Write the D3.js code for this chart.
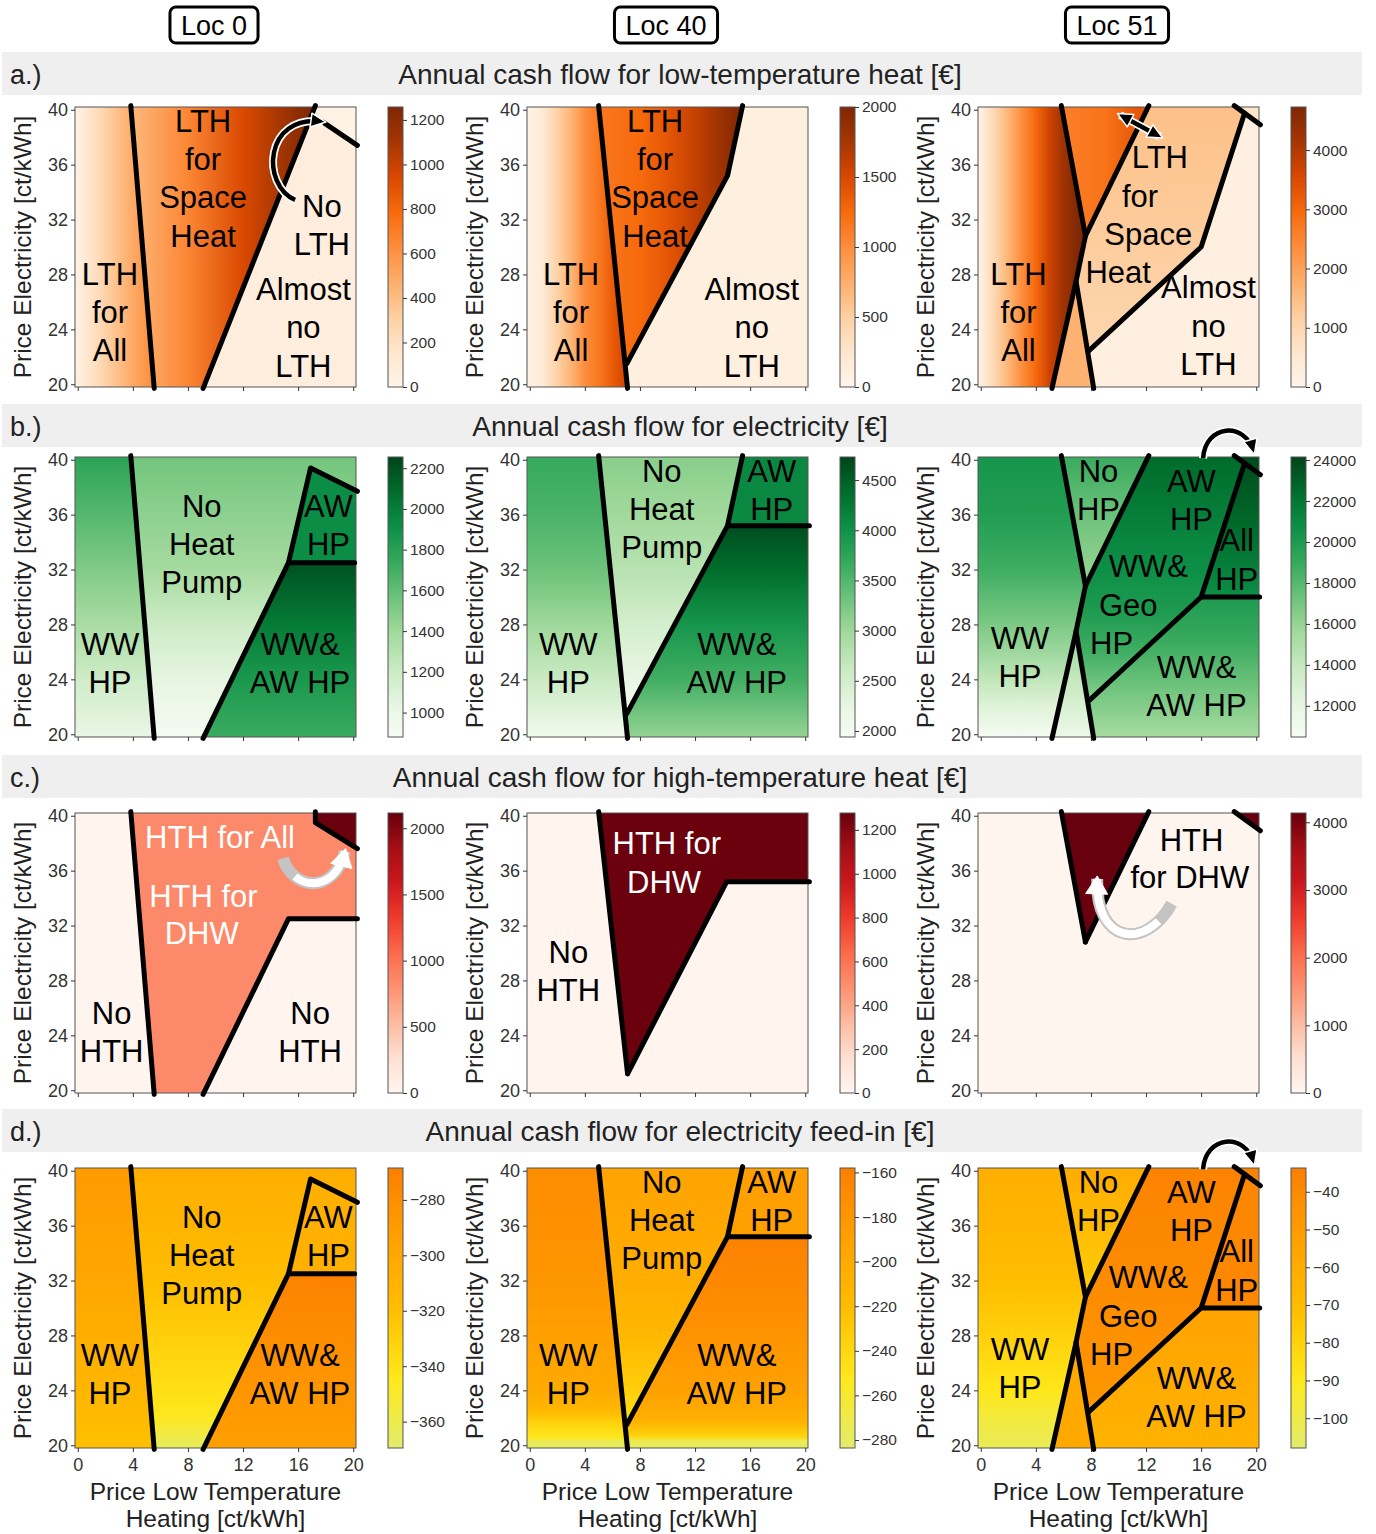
<!DOCTYPE html>
<html>
<head>
<meta charset="utf-8">
<script src="https://cdn.jsdelivr.net/npm/d3@7"></script>
<style>
  body { margin: 0; background: #fff; }
</style>
</head>
<body>
<svg id="fig" width="1376" height="1534"></svg>
<script>
const FONT = "'Liberation Sans', Arial, Helvetica, sans-serif"

// headers and titles
const locations = ["Loc 0", "Loc 40", "Loc 51"]
const rowLetters = ["a.)", "b.)", "c.)", "d.)"]
const rowTitles = [
  "Annual cash flow for low-temperature heat [€]",
  "Annual cash flow for electricity [€]",
  "Annual cash flow for high-temperature heat [€]",
  "Annual cash flow for electricity feed-in [€]"
]
const xTicks = [0, 4, 8, 12, 16, 20]
const yTicks = [20, 24, 28, 32, 36, 40]

// colour maps (close to matplotlib Oranges, Greens, Reds, Wistia as printed)
const palettes = {
  oranges: ["#fff5eb", "#fee6ce", "#fdd0a2", "#fdae6b", "#fd8d3c", "#f76a0c", "#d94801", "#a63603", "#7f2704"],
  greens: ["#f7fcf5", "#e5f5e0", "#c7e9c0", "#a1d99b", "#6cc27a", "#35a95c", "#0c8f47", "#006d2c", "#00441b"],
  reds: ["#fff5f0", "#fee0d2", "#fcbba1", "#fc9272", "#fb6a4a", "#ef3b2c", "#cb181d", "#a50f15", "#67000d"],
  wistia: ["#e2ec6c", "#ffe81a", "#ffbd00", "#ffa000", "#fc7f00"]
}
const rowPalette = ["oranges", "greens", "reds", "wistia"]

// colour bar ranges [min, max] per row / location
const cbDomains = [
  [[0, 1258], [0, 2000], [0, 4727]],
  [[880, 2255], [1940, 4730], [10480, 24150]],
  [[0, 2115], [0, 1277], [0, 4137]],
  [[-369.5, -268.5], [-283.6, -158], [-107.9, -33.7]]
]
const cbTicks = [
  [[0, 200, 400, 600, 800, 1000, 1200], [0, 500, 1000, 1500, 2000], [0, 1000, 2000, 3000, 4000]],
  [[1000, 1200, 1400, 1600, 1800, 2000, 2200], [2000, 2500, 3000, 3500, 4000, 4500], [12000, 14000, 16000, 18000, 20000, 22000, 24000]],
  [[0, 500, 1000, 1500, 2000], [0, 200, 400, 600, 800, 1000, 1200], [0, 1000, 2000, 3000, 4000]],
  [[-360, -340, -320, -300, -280], [-280, -260, -240, -220, -200, -180, -160], [-100, -90, -80, -70, -60, -50, -40]]
]

// boundary lines, [price LTH, price electricity]
const edge0 = [[3.85, 40.3], [5.55, 19.7]]
const edge40 = [[5.0, 40.3], [7.1, 19.7]]
const stepAw0 = [[9.1, 19.7], [15.3, 32.5], [16.9, 39.4], [20.3, 37.7]]
const flat0 = [[15.3, 32.5], [20.1, 32.5]]
const ramp40 = [[7.05, 21.5], [14.36, 35.2], [15.45, 40.3]]
const flat40 = [[14.36, 35.2], [20.3, 35.2]]
const lineP = [[5.17, 19.7], [6.92, 27.5], [7.6, 30.8], [12.2, 40.3]]
const lineQ = [[5.85, 40.3], [7.6, 30.8]]
const lineQ2 = [[6.92, 27.5], [8.2, 19.7]]
const lineC = [[7.8, 22.4], [16.0, 30.0], [19.15, 39.75]]
const lineX = [[18.4, 40.3], [20.3, 38.9]]
const flat51 = [[16.0, 30.0], [20.25, 30.0]]

const lines = [
  [[edge0, [[9.1, 19.7], [17.25, 40.3]], [[17.8, 39.1], [20.3, 37.4]]],
   [edge40, ramp40],
   [lineP, lineQ, lineQ2, lineC, lineX]],
  [[edge0, stepAw0, flat0], [edge40, ramp40, flat40], [lineP, lineQ, lineQ2, lineC, lineX, flat51]],
  [[edge0, [[9.1, 19.7], [15.3, 32.5], [20.3, 32.5]], [[17.25, 40.3], [17.25, 39.5], [20.3, 37.6]]],
   [[[5.0, 40.3], [7.1, 21.2]], [[7.1, 21.2], [14.3, 35.2], [20.3, 35.2]]],
   [lineQ, [[7.6, 30.8], [12.2, 40.3]], lineX]],
  [[edge0, stepAw0, flat0], [edge40, ramp40, flat40], [lineP, lineQ, lineQ2, lineC, lineX, flat51]]
]

// region outlines
const full = [[-1, 41], [21, 41], [21, 19], [-1, 19]]
const loc0Left = [[-1, 40.3], [3.85, 40.3], [5.55, 19.7], [-1, 19.7]]
const loc0Mid = [[3.85, 40.3], [21, 40.3], [21, 37.35], [16.9, 39.4], [15.3, 32.5], [9.1, 19.7], [5.55, 19.7]]
const loc0Aw = [[15.3, 32.5], [16.9, 39.4], [21, 37.35], [21, 32.5]]
const loc0Both = [[9.1, 19.7], [15.3, 32.5], [21, 32.5], [21, 19.7]]
const a0Space = [[3.85, 40.3], [17.25, 40.3], [9.1, 19.7], [5.55, 19.7]]
const a0None = [[17.25, 40.3], [21, 40.3], [21, 19.7], [9.1, 19.7]]
const a0Corner = [[17.25, 40.3], [21, 40.3], [21, 36.92], [17.8, 39.1]]
const c0Dhw = [[3.85, 40.3], [17.25, 40.3], [17.25, 39.5], [21, 37.16], [21, 32.5], [15.3, 32.5], [9.1, 19.7], [5.55, 19.7]]
const c0All = [[17.25, 40.3], [21, 40.3], [21, 37.16], [17.25, 39.5]]
const loc40Left = [[-1, 40.3], [5.0, 40.3], [7.1, 19.7], [-1, 19.7]]
const loc40Mid = [[5.0, 40.3], [15.45, 40.3], [14.36, 35.2], [7.05, 21.5]]
const loc40Right = [[7.1, 19.7], [7.05, 21.5], [14.36, 35.2], [21, 35.2], [21, 19.7]]
const loc40Aw = [[14.36, 35.2], [15.45, 40.3], [21, 40.3], [21, 35.2]]
const a1None = [[15.45, 40.3], [21, 40.3], [21, 19.7], [7.1, 19.7], [7.05, 21.5], [14.36, 35.2]]
const c1Dhw = [[5.0, 40.3], [21, 40.3], [21, 35.2], [14.3, 35.2], [7.1, 21.2]]
const loc51Left = [[-1, 40.3], [5.85, 40.3], [7.6, 30.8], [6.92, 27.5], [5.17, 19.7], [-1, 19.7]]
const loc51Wedge = [[5.85, 40.3], [12.2, 40.3], [7.6, 30.8]]
const loc51Low = [[6.92, 27.5], [8.2, 19.7], [5.17, 19.7]]
const loc51Mid = [[6.92, 27.5], [7.6, 30.8], [12.2, 40.3], [18.4, 40.3], [19.15, 39.75], [16, 30], [7.8, 22.4]]
const loc51Upper = [[16, 30], [19.15, 39.75], [21, 38.38], [21, 30]]
const loc51Lower = [[8.2, 19.7], [7.8, 22.4], [16, 30], [21, 30], [21, 19.7]]
const loc51Corner = [[18.4, 40.3], [21, 40.3], [21, 38.38]]

// cash flow: stops are [position along dir, €]
const regions = [
  [
    [{ pts: loc0Left, dir: "x", stops: [[0, 50], [1.5, 230], [3, 400], [4.5, 540], [5.5, 640]] },
     { pts: a0Space, dir: "x", stops: [[4, 430], [8, 660], [12, 940], [16, 1200], [17.3, 1258]] },
     { pts: a0None, stops: [[0, 75]] },
     { pts: a0Corner, stops: [[0, 25]] }],
    [{ pts: loc40Left, dir: "x", stops: [[0, 60], [1, 200], [2, 480], [3, 700], [4, 1000], [5, 1150], [6, 1350], [7, 1550]] },
     { pts: loc40Mid, dir: "x", stops: [[5, 1150], [8, 1250], [10, 1400], [12, 1600], [14, 1830], [15.4, 2000]] },
     { pts: a1None, stops: [[0, 100]] }],
    [{ pts: loc51Left, dir: "x", stops: [[0, 200], [1, 1000], [2, 1650], [3, 2350], [4, 2980], [5, 3700], [6, 4250], [7, 4700]] },
     { pts: loc51Wedge, dir: "x", stops: [[6, 2600], [9, 2800], [11.5, 3300]] },
     { pts: loc51Low, stops: [[0, 1700]] },
     { pts: loc51Mid, dir: "y", stops: [[22, 1000], [40, 1450]] },
     { pts: loc51Upper, stops: [[0, 220]] },
     { pts: loc51Lower, stops: [[0, 220]] },
     { pts: loc51Corner, stops: [[0, 600]] }]
  ],
  [
    [{ pts: loc0Left, dir: "y", stops: [[20, 1020], [24, 1180], [28, 1360], [32, 1500], [36, 1640], [40, 1770]] },
     { pts: loc0Mid, dir: "y", stops: [[20, 905], [24, 1045], [28, 1195], [32, 1375], [36, 1460], [40, 1540]] },
     { pts: loc0Aw, stops: [[0, 1920]] },
     { pts: loc0Both, dir: "y", stops: [[20, 1730], [24, 1850], [28, 2010], [32.5, 2200]] }],
    [{ pts: loc40Left, dir: "y", stops: [[20, 2100], [24, 2600], [28, 3000], [32, 3330], [36, 3550], [40, 3670]] },
     { pts: loc40Mid, dir: "y", stops: [[21.5, 2050], [24, 2220], [28, 2500], [32, 2780], [36, 2980], [40, 3140]] },
     { pts: loc40Right, dir: "y", stops: [[20, 3100], [24, 3600], [28, 3950], [32, 4380], [35.2, 4650]] },
     { pts: loc40Aw, stops: [[0, 4100]] }],
    [{ pts: loc51Left, dir: "y", stops: [[20, 10900], [22, 12500], [24, 14200], [28, 16800], [32, 18700], [36, 19800], [40, 20300]] },
     { pts: loc51Wedge, dir: "y", stops: [[30.8, 15800], [35, 17000], [40, 18800]] },
     { pts: loc51Low, dir: "y", stops: [[20, 11500], [24, 14000], [27.5, 16000]] },
     { pts: loc51Mid, dir: "y", stops: [[22.4, 16300], [26, 18700], [29, 20000], [32, 20700], [36, 21600], [40, 22500]] },
     { pts: loc51Upper, dir: "y", stops: [[30, 20800], [35, 22500], [40, 23800]] },
     { pts: loc51Lower, dir: "y", stops: [[20, 15500], [24, 17500], [27, 19000], [30, 20000]] },
     { pts: loc51Corner, stops: [[0, 23800]] }]
  ],
  [
    [{ pts: loc0Left, stops: [[0, 15]] },
     { pts: c0Dhw, stops: [[0, 850]] },
     { pts: loc0Both, stops: [[0, 15]] },
     { pts: c0All, stops: [[0, 2100]] }],
    [{ pts: full, stops: [[0, 8]] },
     { pts: c1Dhw, stops: [[0, 1270]] }],
    [{ pts: full, stops: [[0, 10]] },
     { pts: loc51Wedge, stops: [[0, 4130]] },
     { pts: loc51Corner, stops: [[0, 4130]] }]
  ],
  [
    [{ pts: loc0Left, dir: "y", stops: [[20, -320], [24, -313], [28, -306], [32, -300], [36, -295], [40, -290]] },
     { pts: loc0Mid, dir: "y", stops: [[20, -364], [21, -355], [22, -346], [24, -339], [28, -329], [32, -319], [36, -312], [40, -306]] },
     { pts: loc0Aw, stops: [[0, -308]] },
     { pts: loc0Both, dir: "y", stops: [[20, -292], [24, -286], [28, -279], [32.5, -271]] }],
    [{ pts: loc40Left, dir: "y", stops: [[19.8, -278], [20.3, -276], [20.5, -255], [21.5, -238], [22.5, -215], [24, -200], [28, -189], [32, -180], [36, -175], [40, -172]] },
     { pts: loc40Mid, dir: "y", stops: [[21.5, -250], [24, -233], [28, -214], [32, -203], [36, -198], [40, -194]] },
     { pts: loc40Right, dir: "y", stops: [[19.8, -278], [20.3, -275], [20.6, -240], [21.5, -215], [22, -205], [24, -190], [28, -177], [32, -167], [35.2, -161]] },
     { pts: loc40Aw, stops: [[0, -189]] }],
    [{ pts: loc51Left, dir: "y", stops: [[20, -103], [22, -97], [24, -89], [28, -79], [32, -71], [36, -66], [40, -62]] },
     { pts: loc51Wedge, dir: "y", stops: [[30.8, -78], [40, -60]] },
     { pts: loc51Low, stops: [[0, -58]] },
     { pts: loc51Mid, dir: "y", stops: [[22.4, -48], [30, -42], [40, -36]] },
     { pts: loc51Upper, stops: [[0, -38]] },
     { pts: loc51Lower, dir: "y", stops: [[20, -64], [30, -54]] },
     { pts: loc51Corner, stops: [[0, -36]] }]
  ]
]

// region names: [x centre, baseline, text, colour]
const labelsHp0 = [[9.0, 35.85, "No"], [9.0, 33.06, "Heat"], [9.0, 30.27, "Pump"], [2.34, 25.78, "WW"], [2.34, 22.99, "HP"],
  [18.2, 35.85, "AW"], [18.2, 33.06, "HP"], [16.14, 25.78, "WW&"], [16.14, 22.99, "AW HP"]]
const labelsHp40 = [[9.58, 38.4, "No"], [9.58, 35.61, "Heat"], [9.58, 32.82, "Pump"], [2.8, 25.78, "WW"], [2.8, 22.99, "HP"],
  [17.57, 38.4, "AW"], [17.57, 35.61, "HP"], [15.03, 25.78, "WW&"], [15.03, 22.99, "AW HP"]]
const labelsHp51 = [[8.55, 38.4, "No"], [8.55, 35.61, "HP"], [15.3, 37.67, "AW"], [15.3, 34.88, "HP"], [18.58, 33.32, "All"],
  [18.58, 30.53, "HP"], [12.16, 31.44, "WW&"], [10.71, 28.65, "Geo"], [9.5, 25.86, "HP"], [2.85, 26.22, "WW"], [2.85, 23.43, "HP"],
  [15.66, 24.1, "WW&"], [15.66, 21.3, "AW HP"]]
const labels = [
  [[[9.1, 38.38, "LTH"], [9.1, 35.6, "for"], [9.1, 32.81, "Space"], [9.1, 30.02, "Heat"], [2.34, 27.24, "LTH"], [2.34, 24.45, "for"],
    [2.34, 21.66, "All"], [17.72, 32.2, "No"], [17.72, 29.41, "LTH"], [16.38, 26.14, "Almost"], [16.38, 23.35, "no"], [16.38, 20.56, "LTH"]],
   [[9.1, 38.38, "LTH"], [9.1, 35.6, "for"], [9.1, 32.81, "Space"], [9.1, 30.02, "Heat"], [3.0, 27.24, "LTH"], [3.0, 24.45, "for"],
    [3.0, 21.66, "All"], [16.12, 26.14, "Almost"], [16.12, 23.35, "no"], [16.12, 20.56, "LTH"]],
   [[13.0, 35.73, "LTH"], [11.56, 32.93, "for"], [12.16, 30.15, "Space"], [9.98, 27.36, "Heat"], [2.74, 27.24, "LTH"], [2.74, 24.45, "for"],
    [2.74, 21.66, "All"], [16.53, 26.26, "Almost"], [16.53, 23.47, "no"], [16.53, 20.68, "LTH"]]],
  [labelsHp0, labelsHp40, labelsHp51],
  [[[10.33, 37.63, "HTH for All", "#fff"], [9.12, 33.37, "HTH for", "#fff"], [9.0, 30.63, "DHW", "#fff"],
    [2.46, 24.85, "No"], [2.46, 22.06, "HTH"], [16.87, 24.85, "No"], [16.87, 22.06, "HTH"]],
   [[9.95, 37.19, "HTH for", "#fff"], [9.75, 34.4, "DHW", "#fff"], [2.8, 29.3, "No"], [2.8, 26.51, "HTH"]],
   [[15.3, 37.46, "HTH"], [15.18, 34.72, "for DHW"]]],
  [labelsHp0, labelsHp40, labelsHp51]
]

// curved hint arrows: [row, col, style, heads, control points]
const arrows = [
  [0, 0, "black", "end", [[15.78, 33.43], [13.3, 34.5], [13.5, 39.7], [17.8, 39.13]]],
  [0, 2, "black", "both", [[10.11, 39.62], [13.02, 38.04]]],
  [1, 2, "black", "end", [[16.14, 40.1], [16.3, 42.6], [19.2, 42.8], [19.8, 40.6]]],
  [3, 2, "black", "end", [[16.14, 40.1], [16.3, 42.6], [19.2, 42.8], [19.8, 40.6]]],
  [2, 0, "white", "end", [[14.9, 36.9], [15.6, 34.6], [18.6, 34.2], [19.4, 37.4]]],
  [2, 2, "white", "end", [[13.86, 33.6], [12.0, 30.2], [8.3, 30.6], [8.45, 35.4]]]
]

// layout
const W = 281, H = 280
const plotLeft = [75, 527, 978]
const plotTop = [107, 457, 813, 1168]
const cbLeft = [388, 840, 1291]
const barTop = [52, 404, 755, 1109]

const x = d3.scaleLinear().domain([-0.2, 20.2]).range([0, W])
const y = d3.scaleLinear().domain([19.8, 40.2]).range([H, 0])
const toPath = d3.line().x(d => x(d[0])).y(d => y(d[1]))

const svg = d3.select("#fig").style("font-family", FONT)
const defs = svg.append("defs")

// location boxes
locations.forEach((loc, j) => {
  const g = svg.append("g").attr("transform", `translate(${plotLeft[j] + 139},25)`)
  const t = g.append("text").attr("text-anchor", "middle").attr("dy", "0.36em")
    .attr("font-size", 27).text(loc)
  const w = t.node().getComputedTextLength() + 22
  g.insert("rect", "text").attr("x", -w / 2).attr("y", -18).attr("width", w).attr("height", 36)
    .attr("rx", 6).attr("fill", "#fff").attr("stroke", "#000").attr("stroke-width", 3)
})

// grey row title bars
rowTitles.forEach((title, i) => {
  svg.append("rect").attr("x", 2).attr("y", barTop[i]).attr("width", 1360).attr("height", 43).attr("fill", "#efefef")
  svg.append("text").attr("x", 10).attr("y", barTop[i] + 32).attr("font-size", 27).attr("fill", "#222").text(rowLetters[i])
  svg.append("text").attr("x", 680).attr("y", barTop[i] + 32).attr("text-anchor", "middle")
    .attr("font-size", 28).attr("fill", "#222").text(title)
})

function arrowHead(g, tip, from, len, half, fill, stroke, sw) {
  const dx = tip[0] - from[0], dy = tip[1] - from[1]
  const n = Math.hypot(dx, dy), ux = dx / n, uy = dy / n
  const bx = tip[0] - ux * len, by = tip[1] - uy * len
  const pts = [[tip[0] + ux * 3, tip[1] + uy * 3], [bx - uy * half, by + ux * half], [bx + uy * half, by - ux * half]]
  g.append("path").attr("d", "M" + pts.join("L") + "Z")
    .attr("fill", fill).attr("stroke", stroke).attr("stroke-width", sw).attr("stroke-linejoin", "round")
}

function drawArrow(g, style, heads, pts) {
  const p = pts.map(d => [x(d[0]), y(d[1])])
  const d = p.length === 4 ? `M${p[0]}C${p[1]} ${p[2]} ${p[3]}` : `M${p[0]}L${p[1]}`
  const last = p[p.length - 1], prev = p[p.length - 2]
  if (style === "black") {
    g.append("path").attr("d", d).attr("fill", "none").attr("stroke", "#fff").attr("stroke-width", 8)
    g.append("path").attr("d", d).attr("fill", "none").attr("stroke", "#000").attr("stroke-width", 4.5)
    arrowHead(g, last, prev, 12, 7, "#000", "#fff", 1.5)
    if (heads === "both") arrowHead(g, p[0], p[1], 12, 7, "#000", "#fff", 1.5)
  } else {
    g.append("path").attr("d", d).attr("fill", "none").attr("stroke", "#c4c4c4").attr("stroke-width", 12)
    g.append("path").attr("d", d).attr("fill", "none").attr("stroke", "#fff").attr("stroke-width", 8)
      .attr("stroke-dasharray", "0 22 400")
    arrowHead(g, last, prev, 15, 11, "#fff", "#fff", 1)
  }
}

for (let i = 0; i < 4; i++) {
  for (let j = 0; j < 3; j++) {
    const dom = cbDomains[i][j]
    const pal = palettes[rowPalette[i]]
    const interp = d3.piecewise(d3.interpolateRgb, pal)
    const color = v => interp(Math.max(0, Math.min(1, (v - dom[0]) / (dom[1] - dom[0]))))

    const g = svg.append("g").attr("transform", `translate(${plotLeft[j]},${plotTop[i]})`)
    const clipId = `clip${i}${j}`
    defs.append("clipPath").attr("id", clipId).append("rect").attr("width", W).attr("height", H)

    // heat map regions
    const rg = g.append("g").attr("clip-path", `url(#${clipId})`)
    regions[i][j].forEach((r, k) => {
      let fill
      if (r.stops.length === 1) {
        fill = color(r.stops[0][1])
      } else {
        const id = `grad${i}${j}${k}`
        const s = r.stops, p0 = s[0][0], p1 = s[s.length - 1][0]
        const lg = defs.append("linearGradient").attr("id", id).attr("gradientUnits", "userSpaceOnUse")
        if (r.dir === "x") lg.attr("x1", x(p0)).attr("x2", x(p1)).attr("y1", 0).attr("y2", 0)
        else lg.attr("x1", 0).attr("x2", 0).attr("y1", y(p0)).attr("y2", y(p1))
        s.forEach(([p, v]) => lg.append("stop").attr("offset", (p - p0) / (p1 - p0)).attr("stop-color", color(v)))
        fill = `url(#${id})`
      }
      rg.append("path").attr("d", toPath(r.pts) + "Z").attr("fill", fill)
        .attr("stroke", fill).attr("stroke-width", 0.6)
    })

    g.append("rect").attr("width", W).attr("height", H).attr("fill", "none").attr("stroke", "#555")

    // axes
    const ya = g.append("g").call(d3.axisLeft(y).tickValues(yTicks).tickSize(4).tickPadding(3))
    ya.attr("font-size", 18).attr("font-family", FONT).attr("color", "#333")
    ya.select(".domain").remove()
    const xa = g.append("g").attr("transform", `translate(0,${H})`)
      .call(d3.axisBottom(x).tickValues(xTicks).tickSize(4).tickPadding(6).tickFormat(i === 3 ? d3.format("d") : ""))
    xa.attr("font-size", 18).attr("font-family", FONT).attr("color", "#333")
    xa.select(".domain").remove()

    g.append("text").attr("transform", `translate(-44,${H / 2}) rotate(-90)`).attr("text-anchor", "middle")
      .attr("font-size", 24.5).attr("fill", "#222").text("Price Electricity [ct/kWh]")
    if (i === 3) {
      g.append("text").attr("x", W / 2).attr("y", H + 52).attr("text-anchor", "middle")
        .attr("font-size", 24.5).attr("fill", "#222").text("Price Low Temperature")
      g.append("text").attr("x", W / 2).attr("y", H + 79).attr("text-anchor", "middle")
        .attr("font-size", 24.5).attr("fill", "#222").text("Heating [ct/kWh]")
    }

    // boundaries
    lines[i][j].forEach(l => {
      g.append("path").attr("d", toPath(l)).attr("fill", "none").attr("stroke", "#000")
        .attr("stroke-width", 5).attr("stroke-linejoin", "round").attr("stroke-linecap", "round")
    })

    labels[i][j].forEach(([u, v, t, c]) => {
      g.append("text").attr("x", x(u)).attr("y", y(v)).attr("text-anchor", "middle")
        .attr("font-size", 31).attr("fill", c || "#000").text(t)
    })

    arrows.filter(a => a[0] === i && a[1] === j).forEach(a => drawArrow(g, a[2], a[3], a[4]))

    // colour bar
    const cb = svg.append("g").attr("transform", `translate(${cbLeft[j]},${plotTop[i]})`)
    const gid = `cb${i}${j}`
    const cg = defs.append("linearGradient").attr("id", gid).attr("x1", 0).attr("x2", 0).attr("y1", 1).attr("y2", 0)
    pal.forEach((c, k) => cg.append("stop").attr("offset", k / (pal.length - 1)).attr("stop-color", c))
    cb.append("rect").attr("width", 15).attr("height", H).attr("fill", `url(#${gid})`).attr("stroke", "#555")
    const cs = d3.scaleLinear().domain(dom).range([H, 0])
    const ca = cb.append("g").attr("transform", "translate(15,0)")
      .call(d3.axisRight(cs).tickValues(cbTicks[i][j]).tickSize(4).tickPadding(3).tickFormat(d3.format("d")))
    ca.attr("font-size", 15.5).attr("font-family", FONT).attr("color", "#333")
    ca.select(".domain").remove()
  }
}
</script>
</body>
</html>
